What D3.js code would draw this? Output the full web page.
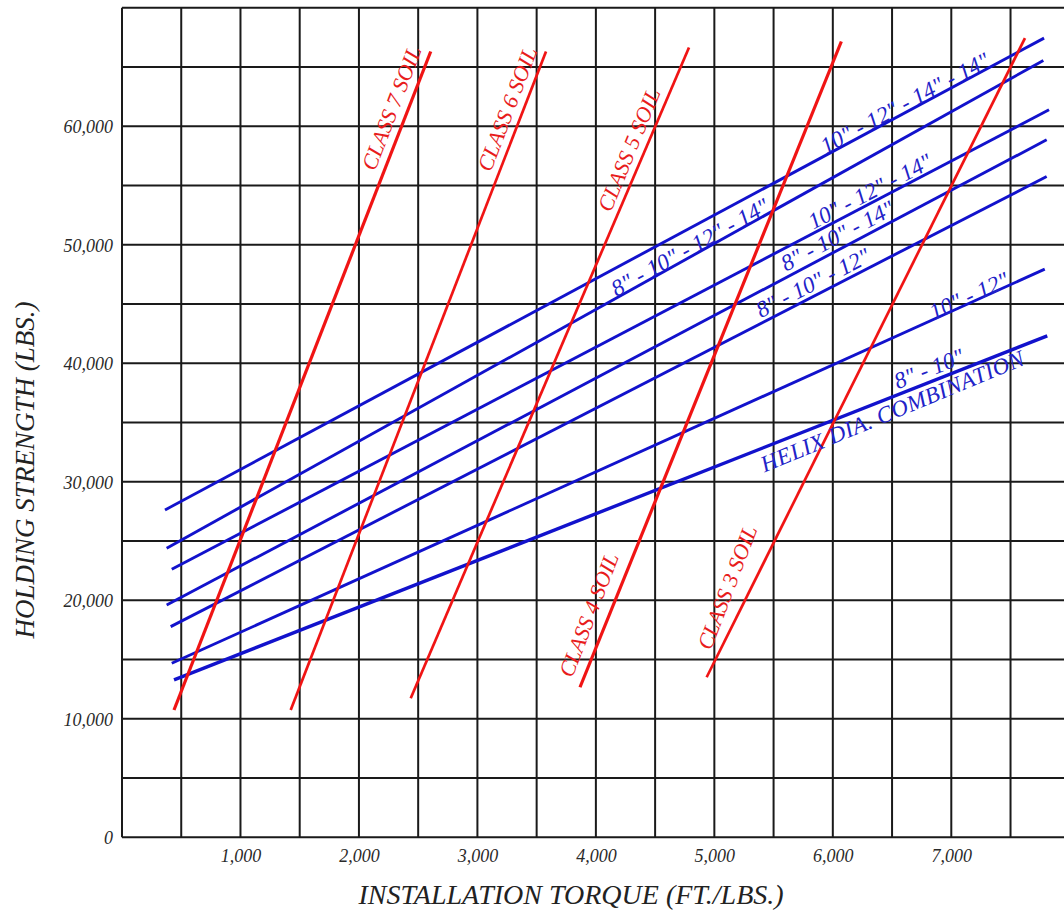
<!DOCTYPE html>
<html>
<head>
<meta charset="utf-8">
<script src="https://cdn.jsdelivr.net/npm/d3@7"></script>
<style>
  html, body { margin: 0; padding: 0; background: #fff; }
  svg { display: block; }
  text { font-family: "Liberation Serif", "Times New Roman", serif; font-style: italic; }
</style>
</head>
<body>
<svg id="chart" width="1064" height="916"></svg>
<script>
// ---------------- DATA ----------------
const xTickValues = [1000, 2000, 3000, 4000, 5000, 6000, 7000];
const yTickValues = [0, 10000, 20000, 30000, 40000, 50000, 60000];
const xGridValues = d3.range(0, 8001, 500);
const yGridValues = d3.range(0, 70001, 5000);

// Soil class lines (red): torque [start, end], holding strength [start, end]
const soilClasses  = ["CLASS 7 SOIL", "CLASS 6 SOIL", "CLASS 5 SOIL", "CLASS 4 SOIL", "CLASS 3 SOIL"];
const soilTorque   = [[439, 2606], [1424, 3579], [2437, 4786], [3866, 6072], [4935, 7622]];
const soilStrength = [[10745, 66312], [10745, 66312], [11733, 66650], [12662, 67158], [13506, 67444]];

// Helix combination lines (blue)
const helixCombos   = ['10" - 12" - 14" - 14"', '8" - 10" - 12" - 14"', '10" - 12" - 14"',
                       '8" - 10" - 14"', '8" - 10" - 12"', '10" - 12"', '8" - 10"'];
const helixTorque   = [[363, 7783], [377, 7777], [420, 7825], [377, 7805], [411, 7805], [420, 7789], [439, 7810]];
const helixStrength = [[27627, 67443], [24395, 65553], [22622, 61391], [19608, 58859], [17777, 55761], [14687, 47945], [13278, 42315]];

// Label anchor points (data units) for the line labels
const soilLabelTorque    = [2277, 3254, 4281, 3942, 5111];
const soilLabelStrength  = [61535, 61459, 58015, 18764, 21086];
const soilLabelAngle     = [-69, -69, -67.5, -69, -69];
const helixLabelTorque   = [6609, 4795, 6314, 6040, 5833, 7150, 6812];
const helixLabelStrength = [61957, 49785, 54495, 50755, 46788, 45691, 39529];
const helixNote = "HELIX DIA. COMBINATION";
const helixNoteTorque = 6504, helixNoteStrength = 35942;

const xTitle = "INSTALLATION TORQUE (FT./LBS.)";
const yTitle = "HOLDING STRENGTH (LBS.)";

// ---------------- SCALES ----------------
const svg = d3.select("#chart");
const x = d3.scaleLinear().domain([0, 8000]).range([122, 122 + 8 * 118.47]);
const y = d3.scaleLinear().domain([0, 70000]).range([837.3, 837.3 - 7 * 118.5]);
const fmt = d3.format(",");

svg.append("rect").attr("width", 1064).attr("height", 916).attr("fill", "#fff");

// ---------------- GRID ----------------
const grid = svg.append("g").attr("stroke", "#1a1a1a").attr("stroke-width", 2);
grid.selectAll("line.v").data(xGridValues).join("line")
  .attr("class", "v")
  .attr("x1", d => x(d)).attr("x2", d => x(d))
  .attr("y1", y(0)).attr("y2", y(70000));
grid.selectAll("line.h").data(yGridValues).join("line")
  .attr("class", "h")
  .attr("x1", x(0)).attr("x2", x(8000))
  .attr("y1", d => y(d)).attr("y2", d => y(d));

// ---------------- AXES (labels) ----------------
const yAxis = svg.append("g")
  .attr("transform", `translate(${x(0) - 9},0)`)
  .call(d3.axisLeft(y).tickValues(yTickValues).tickFormat(fmt).tickSize(0));
yAxis.select(".domain").remove();
yAxis.selectAll("text")
  .attr("x", 0).attr("dy", "0.37em")
  .style("font-family", '"Liberation Serif", "Times New Roman", serif')
  .style("font-style", "italic").style("font-size", "18px").attr("fill", "#2a2a2a");

const xAxis = svg.append("g")
  .attr("transform", `translate(0,${y(0)})`)
  .call(d3.axisBottom(x).tickValues(xTickValues).tickFormat(fmt).tickSize(0));
xAxis.select(".domain").remove();
xAxis.selectAll("text")
  .attr("y", 25).attr("dy", 0)
  .style("font-family", '"Liberation Serif", "Times New Roman", serif')
  .style("font-style", "italic").style("font-size", "18px").attr("fill", "#2a2a2a");

// ---------------- LINES ----------------
const lineGen = d3.line().x(d => x(d[0])).y(d => y(d[1]));

const helixData = helixCombos.map((name, i) => ({
  name,
  pts: helixTorque[i].map((t, j) => [t, helixStrength[i][j]])
}));
svg.append("g").selectAll("path").data(helixData).join("path")
  .attr("d", d => lineGen(d.pts))
  .attr("fill", "none").attr("stroke", "#1212cc")
  .attr("stroke-width", (d, i) => i === 6 ? 3.4 : 2.9)
  .attr("stroke-linecap", "butt");

const soilData = soilClasses.map((name, i) => ({
  name,
  pts: soilTorque[i].map((t, j) => [t, soilStrength[i][j]])
}));
svg.append("g").selectAll("path").data(soilData).join("path")
  .attr("d", d => lineGen(d.pts))
  .attr("fill", "none").attr("stroke", "#f01414")
  .attr("stroke-width", (d, i) => (i === 0 || i === 3) ? 3.2 : 2.7)
  .attr("stroke-linecap", "butt");

// ---------------- LINE LABELS ----------------
function pixAngle(pts) {
  const dx = x(pts[1][0]) - x(pts[0][0]);
  const dy = y(pts[1][1]) - y(pts[0][1]);
  return Math.atan2(dy, dx) * 180 / Math.PI;
}

svg.append("g").selectAll("text").data(helixData).join("text")
  .attr("transform", (d, i) => `translate(${x(helixLabelTorque[i])},${y(helixLabelStrength[i])}) rotate(${pixAngle(d.pts)})`)
  .attr("text-anchor", "middle").attr("dy", "0.33em")
  .attr("font-size", 23).attr("fill", "#2222c8")
  .text(d => d.name);

svg.append("text")
  .attr("transform", `translate(${x(helixNoteTorque)},${y(helixNoteStrength)}) rotate(${pixAngle(helixData[6].pts) - 1})`)
  .attr("text-anchor", "middle").attr("dy", "0.33em")
  .attr("font-size", 23).attr("letter-spacing", 0.4).attr("fill", "#2222c8")
  .text(helixNote);

svg.append("g").selectAll("text").data(soilData).join("text")
  .attr("transform", (d, i) => `translate(${x(soilLabelTorque[i])},${y(soilLabelStrength[i])}) rotate(${soilLabelAngle[i]})`)
  .attr("text-anchor", "middle").attr("dy", "0.33em")
  .attr("font-size", 22).attr("fill", "#e81c1c")
  .text(d => d.name);

// ---------------- AXIS TITLES ----------------
svg.append("text")
  .attr("x", 571).attr("y", 904)
  .attr("text-anchor", "middle")
  .attr("font-size", 28).attr("fill", "#222")
  .text(xTitle);

svg.append("text")
  .attr("transform", "translate(34,470) rotate(-90)")
  .attr("text-anchor", "middle")
  .attr("font-size", 27).attr("fill", "#222")
  .text(yTitle);
</script>
</body>
</html>
